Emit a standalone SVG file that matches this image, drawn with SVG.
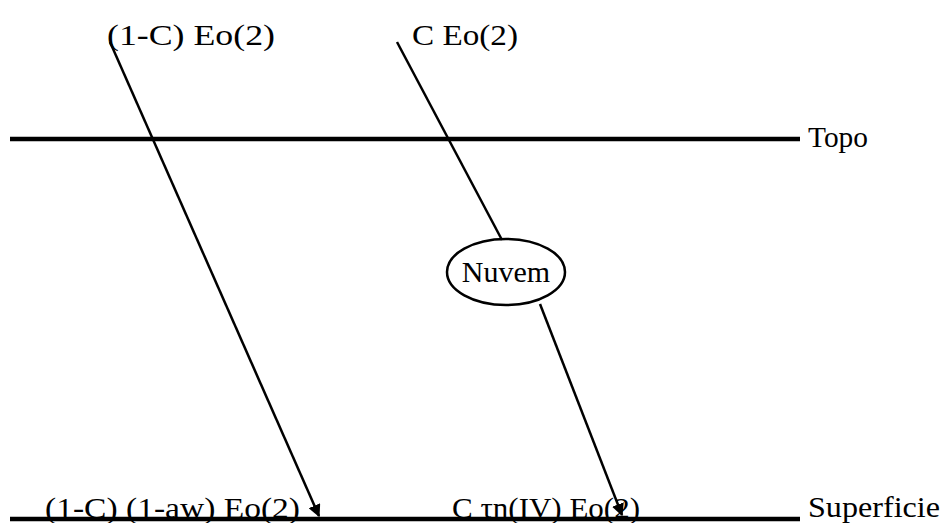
<svg xmlns="http://www.w3.org/2000/svg" width="947" height="523" viewBox="0 0 947 523">
<defs>
<style>
text{font-family:"Liberation Serif","Times New Roman",serif;font-size:30px;fill:#000}
.lvl{stroke:#000;stroke-width:4.5;fill:none}
.ray{stroke:#000;stroke-width:2.5;fill:none}
</style>
<marker id="ah" viewBox="0 0 10 10" refX="9" refY="5" markerWidth="5" markerHeight="5" orient="auto" markerUnits="strokeWidth">
<path d="M0,0 L10,5 L0,10 Z" fill="#000"/>
</marker>
</defs>
<rect width="947" height="523" fill="#fff"/>
<g id="topo">
<line class="lvl" x1="10" y1="139" x2="800" y2="139"/>
<text x="808" y="147" textLength="60" lengthAdjust="spacingAndGlyphs">Topo</text>
</g>
<g id="superficie">
<text x="45" y="518" textLength="255" lengthAdjust="spacingAndGlyphs">(1-C) (1-aw) Eo(2)</text>
<text x="452" y="518" textLength="188" lengthAdjust="spacingAndGlyphs">C τn(IV) Eo(2)</text>
<line class="lvl" x1="10" y1="519" x2="800" y2="519"/>
<text x="808" y="517" textLength="132" lengthAdjust="spacingAndGlyphs">Superficie</text>
</g>
<g id="label-clear">
<text x="107" y="45" textLength="168" lengthAdjust="spacingAndGlyphs">(1-C) Eo(2)</text>
</g>
<g id="label-cloudy">
<text x="412" y="45" textLength="106" lengthAdjust="spacingAndGlyphs">C Eo(2)</text>
</g>
<g id="nuvem">
<ellipse cx="506" cy="272" rx="59" ry="33" fill="none" stroke="#000" stroke-width="2.5"/>
<text x="506" y="282" text-anchor="middle">Nuvem</text>
</g>
<g id="connectors">
<line class="ray" x1="110" y1="42" x2="319" y2="516" marker-end="url(#ah)"/>
<line class="ray" x1="397" y1="42" x2="502" y2="240"/>
<line class="ray" x1="540" y1="304" x2="622" y2="515" marker-end="url(#ah)"/>
</g>
</svg>
